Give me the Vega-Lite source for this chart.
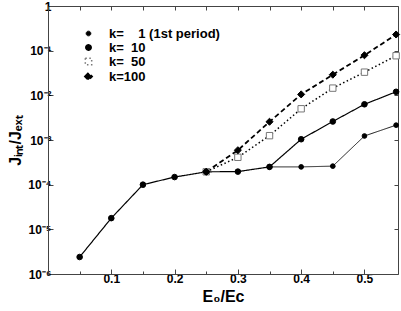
{
  "$schema": "https://vega.github.io/schema/vega-lite/v6.json",
  "width": 350,
  "height": 268,
  "autosize": "none",
  "padding": {"left": 48, "top": 6, "right": 3, "bottom": 37},
  "background": "white",
  "config": {
    "view": {"stroke": null},
    "font": "Liberation Sans",
    "axis": {"labelFont": "Liberation Sans", "titleFont": "Liberation Sans", "labelFontWeight": "bold", "titleFontWeight": "bold", "labelColor": "black", "titleColor": "black", "domainColor": "#444", "tickColor": "#444", "grid": false, "labelFontSize": 12, "titleFontSize": 16},
    "legend": {"orient": "none", "legendX": 34, "legendY": 21, "padding": 0, "rowPadding": 0,
      "labelFont": "Liberation Sans", "labelFontWeight": "bold", "labelFontSize": 13, "labelColor": "black", "labelOffset": 14}
  },
  "data": {
    "values": [
      {"s": "k=\u2007\u20071 (1st period)", "x": 0.35, "y": 0.00025},
      {"s": "k=\u2007\u20071 (1st period)", "x": 0.40, "y": 0.00025},
      {"s": "k=\u2007\u20071 (1st period)", "x": 0.45, "y": 0.00026},
      {"s": "k=\u2007\u20071 (1st period)", "x": 0.50, "y": 0.00123},
      {"s": "k=\u2007\u20071 (1st period)", "x": 0.55, "y": 0.00215},
      {"s": "k=\u200750", "x": 0.25, "y": 0.000194},
      {"s": "k=\u200750", "x": 0.30, "y": 0.00041},
      {"s": "k=\u200750", "x": 0.35, "y": 0.00125},
      {"s": "k=\u200750", "x": 0.40, "y": 0.0050},
      {"s": "k=\u200750", "x": 0.45, "y": 0.0145},
      {"s": "k=\u200750", "x": 0.50, "y": 0.033},
      {"s": "k=\u200750", "x": 0.55, "y": 0.077},
      {"s": "k=100", "x": 0.25, "y": 0.000194},
      {"s": "k=100", "x": 0.30, "y": 0.00059},
      {"s": "k=100", "x": 0.35, "y": 0.00256},
      {"s": "k=100", "x": 0.40, "y": 0.0105},
      {"s": "k=100", "x": 0.45, "y": 0.029},
      {"s": "k=100", "x": 0.50, "y": 0.079},
      {"s": "k=100", "x": 0.55, "y": 0.23},
      {"s": "k=\u200710", "x": 0.05, "y": 0.0000024},
      {"s": "k=\u200710", "x": 0.10, "y": 0.0000178},
      {"s": "k=\u200710", "x": 0.15, "y": 0.0001},
      {"s": "k=\u200710", "x": 0.20, "y": 0.000148},
      {"s": "k=\u200710", "x": 0.25, "y": 0.000194},
      {"s": "k=\u200710", "x": 0.30, "y": 0.000196},
      {"s": "k=\u200710", "x": 0.35, "y": 0.00025},
      {"s": "k=\u200710", "x": 0.40, "y": 0.00104},
      {"s": "k=\u200710", "x": 0.45, "y": 0.0026},
      {"s": "k=\u200710", "x": 0.50, "y": 0.0063},
      {"s": "k=\u200710", "x": 0.55, "y": 0.012}
    ]
  },
  "resolve": {"axis": {"x": "independent", "y": "independent"}},
  "layer": [
    {
      "mark": {"type": "line", "color": "black", "clip": true},
      "encoding": {
        "x": {"field": "x", "type": "quantitative", "scale": {"domain": [0, 0.553], "nice": false, "zero": false},
          "axis": {"orient": "bottom", "values": [0.05, 0.1, 0.15, 0.2, 0.25, 0.3, 0.35, 0.4, 0.45, 0.5], "title": "E₀/Eᴄ", "titlePadding": 2,
            "tickSize": {"condition": {"test": "abs(datum.value*10 - round(datum.value*10)) < 0.01", "value": -5}, "value": -3},
            "labelExpr": "abs(datum.value*10 - round(datum.value*10)) < 0.01 ? format(datum.value, '.1f') : ''",
            "labelPadding": 4, "labelFlush": false, "labelOverlap": false}},
        "y": {"field": "y", "type": "quantitative", "scale": {"type": "log", "domain": [0.000001, 1], "nice": false},
          "axis": {"orient": "left", "values": [0.000001, 0.00001, 0.0001, 0.001, 0.01, 0.1, 1], "title": "Jᵢₙₜ/Jₑₓₜ", "titlePadding": 4,
            "tickSize": -5, "labelPadding": 2,
            "labelExpr": "datum.value >= 0.9 ? '1' : '10⁻' + ['', '¹', '²', '³', '⁴', '⁵', '⁶'][round(-log(datum.value)/LN10)]"}},
        "detail": {"field": "s"},
        "strokeDash": {"field": "s", "type": "nominal", "title": null,
          "scale": {"domain": ["k=\u2007\u20071 (1st period)", "k=\u200710", "k=\u200750", "k=100"], "range": [[1, 0], [1, 0], [1.5, 2.5], [5, 3]]}},
        "strokeWidth": {"field": "s", "type": "nominal", "title": null,
          "scale": {"domain": ["k=\u2007\u20071 (1st period)", "k=\u200710", "k=\u200750", "k=100"], "range": [0.9, 1.8, 1.4, 1.3]}}
      }
    },
    {
      "mark": {"type": "point", "opacity": 1, "strokeWidth": 1, "filled": false},
      "encoding": {
        "x": {"field": "x", "type": "quantitative",
          "axis": {"orient": "top", "values": [0.05, 0.1, 0.15, 0.2, 0.25, 0.3, 0.35, 0.4, 0.45, 0.5], "labels": false, "title": null, "tickSize": -4}},
        "y": {"field": "y", "type": "quantitative",
          "axis": {"orient": "right", "values": [0.000001, 0.00001, 0.0001, 0.001, 0.01, 0.1, 1], "labels": false, "title": null, "tickSize": -4}},
        "shape": {"field": "s", "type": "nominal", "title": null,
          "scale": {"domain": ["k=\u2007\u20071 (1st period)", "k=\u200710", "k=\u200750", "k=100"], "range": ["circle", "circle", "square", "diamond"]}},
        "size": {"field": "s", "type": "nominal", "title": null,
          "scale": {"domain": ["k=\u2007\u20071 (1st period)", "k=\u200710", "k=\u200750", "k=100"], "range": [22, 50, 14, 36]}},
        "fill": {"field": "s", "type": "nominal", "title": null,
          "scale": {"domain": ["k=\u2007\u20071 (1st period)", "k=\u200710", "k=\u200750", "k=100"], "range": ["black", "black", "white", "black"]}},
        "stroke": {"field": "s", "type": "nominal", "title": null,
          "scale": {"domain": ["k=\u2007\u20071 (1st period)", "k=\u200710", "k=\u200750", "k=100"], "range": ["black", "black", "#777", "black"]}}
      }
    }
  ]
}
